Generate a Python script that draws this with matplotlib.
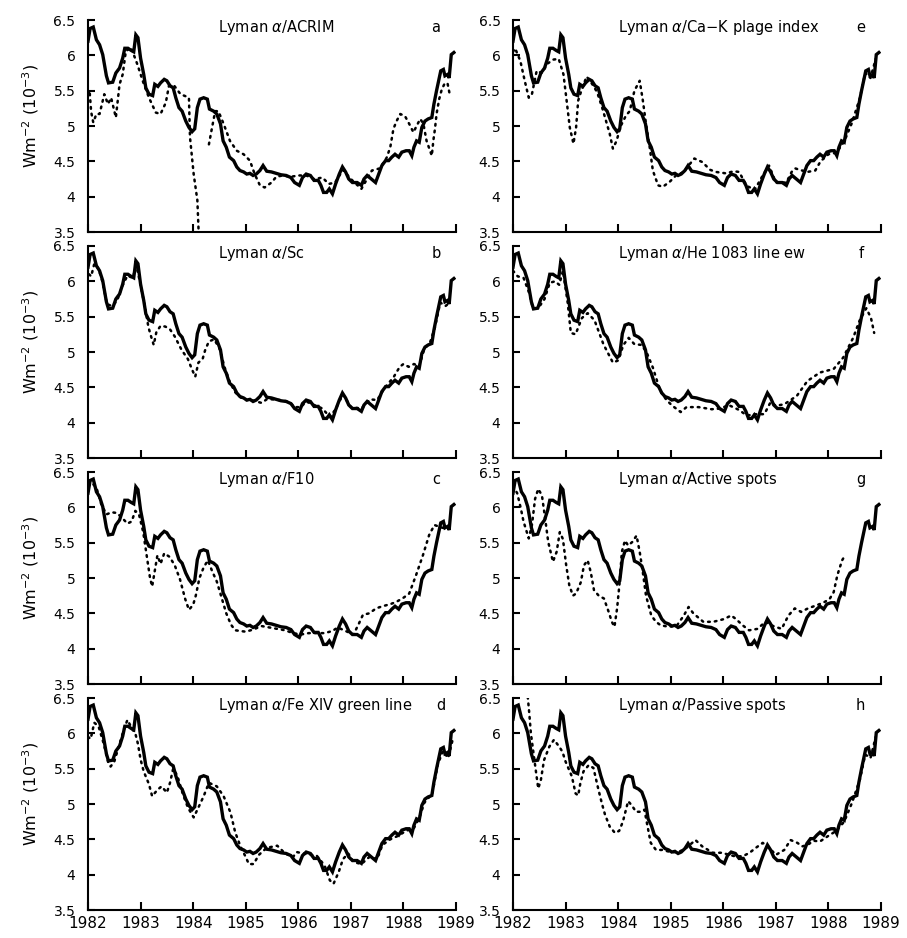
import matplotlib
matplotlib.use("Agg")
import matplotlib.pyplot as plt
import numpy as np

# ---------------- data ----------------
lyman_t = [1982.00, 1982.04, 1982.10, 1982.16, 1982.22, 1982.28, 1982.35, 1982.39, 1982.47, 1982.53,
           1982.60, 1982.66, 1982.70, 1982.76, 1982.82, 1982.87, 1982.91, 1982.95, 1983.00, 1983.06,
           1983.10, 1983.16, 1983.23, 1983.27, 1983.33, 1983.38, 1983.45, 1983.50, 1983.56, 1983.62,
           1983.67, 1983.73, 1983.79, 1983.86, 1983.92, 1983.98, 1984.03, 1984.08, 1984.13, 1984.20,
           1984.27, 1984.31, 1984.39, 1984.45, 1984.52, 1984.57, 1984.63, 1984.69, 1984.77, 1984.83,
           1984.89, 1984.96, 1985.02, 1985.08, 1985.14, 1985.20, 1985.27, 1985.33, 1985.40, 1985.49,
           1985.58, 1985.67, 1985.77, 1985.86, 1985.93, 1986.02, 1986.08, 1986.15, 1986.23, 1986.30,
           1986.38, 1986.43, 1986.48, 1986.54, 1986.59, 1986.65, 1986.71, 1986.78, 1986.84, 1986.90,
           1986.96, 1987.03, 1987.12, 1987.20, 1987.25, 1987.31, 1987.39, 1987.47, 1987.53, 1987.59,
           1987.66, 1987.72, 1987.78, 1987.84, 1987.91, 1987.97, 1988.05, 1988.11, 1988.16, 1988.20,
           1988.25, 1988.30, 1988.35, 1988.41, 1988.47, 1988.54, 1988.58, 1988.63, 1988.67, 1988.71,
           1988.76, 1988.79, 1988.84, 1988.87, 1988.91, 1988.96]
lyman_v = [6.20, 6.38, 6.40, 6.22, 6.15, 6.01, 5.71, 5.61, 5.62, 5.75,
           5.82, 5.96, 6.10, 6.10, 6.07, 6.05, 6.29, 6.25, 5.96, 5.73,
           5.54, 5.45, 5.43, 5.59, 5.56, 5.61, 5.66, 5.64, 5.57, 5.54,
           5.40, 5.26, 5.21, 5.07, 4.98, 4.92, 4.96, 5.26, 5.38, 5.40,
           5.38, 5.24, 5.21, 5.17, 5.03, 4.79, 4.70, 4.56, 4.51, 4.42,
           4.37, 4.35, 4.32, 4.33, 4.30, 4.32, 4.37, 4.44, 4.36, 4.35,
           4.33, 4.31, 4.30, 4.27, 4.20, 4.16, 4.27, 4.32, 4.30, 4.23,
           4.23, 4.16, 4.06, 4.06, 4.11, 4.04, 4.18, 4.32, 4.42, 4.35,
           4.25, 4.20, 4.20, 4.16, 4.25, 4.30, 4.25, 4.20, 4.32, 4.44,
           4.51, 4.51, 4.56, 4.60, 4.56, 4.63, 4.65, 4.65, 4.58, 4.70,
           4.79, 4.77, 4.98, 5.07, 5.10, 5.12, 5.31, 5.50, 5.64, 5.78,
           5.80, 5.71, 5.73, 5.68, 6.01, 6.04]

# a: ACRIM (gap after the drop in early 1984)
acrim_t = [1982.00, 1982.03, 1982.06, 1982.10, 1982.16, 1982.22, 1982.31, 1982.38, 1982.44, 1982.53,
           1982.60, 1982.66, 1982.72, 1982.82, 1982.94, 1983.04, 1983.16, 1983.29, 1983.38, 1983.48,
           1983.54, 1983.64, 1983.76, 1983.86, 1983.92, 1983.94, 1984.01, 1984.08, 1984.11, 1984.20,
           1984.30, 1984.36, 1984.42, 1984.48, 1984.58, 1984.70, 1984.83, 1984.96, 1985.08, 1985.17,
           1985.27, 1985.36, 1985.49, 1985.58, 1985.70, 1985.85, 1986.00, 1986.15, 1986.30, 1986.46,
           1986.58, 1986.70, 1986.85, 1987.00, 1987.20, 1987.40, 1987.55, 1987.68, 1987.75, 1987.81,
           1987.87, 1987.94, 1988.03, 1988.11, 1988.19, 1988.25, 1988.32, 1988.38, 1988.44, 1988.54,
           1988.57, 1988.60, 1988.63, 1988.68, 1988.73, 1988.79, 1988.84, 1988.88]
acrim_v = [5.45, 5.50, 5.20, 5.05, 5.17, 5.17, 5.45, 5.31, 5.40, 5.12,
           5.59, 5.73, 6.06, 6.11, 5.87, 5.64, 5.40, 5.19, 5.17, 5.33,
           5.57, 5.57, 5.45, 5.42, 5.40, 4.84, 4.32, 3.95, 3.40, np.nan,
           4.74, 4.98, 5.21, 5.21, 5.03, 4.79, 4.65, 4.60, 4.51, 4.32,
           4.16, 4.13, 4.20, 4.28, 4.30, 4.28, 4.30, 4.30, 4.25, 4.27,
           4.18, 4.20, 4.38, 4.25, 4.11, 4.37, 4.40, 4.55, 4.70, 4.96,
           5.07, 5.17, 5.14, 5.03, 4.91, 5.00, 5.10, 5.03, 4.79, 4.58,
           4.80, 4.96, 5.17, 5.38, 5.52, 5.61, 5.60, 5.45]

# b: Sc
sc_t = [1982.02, 1982.06, 1982.12, 1982.20, 1982.28, 1982.36, 1982.45, 1982.55, 1982.65, 1982.75,
        1982.85, 1982.92, 1983.00, 1983.08, 1983.15, 1983.20, 1983.25, 1983.30, 1983.38, 1983.47,
        1983.56, 1983.65, 1983.78, 1983.90, 1983.98, 1984.04, 1984.10, 1984.18, 1984.23, 1984.30,
        1984.40, 1984.50, 1984.60, 1984.70, 1984.80, 1984.90, 1985.00, 1985.10, 1985.20, 1985.30,
        1985.40, 1985.50, 1985.65, 1985.80, 1985.95, 1986.05, 1986.15, 1986.30, 1986.46, 1986.60,
        1986.70, 1986.85, 1987.00, 1987.20, 1987.37, 1987.50, 1987.65, 1987.81, 1987.93, 1988.00,
        1988.10, 1988.20, 1988.30, 1988.40, 1988.50, 1988.60, 1988.70, 1988.80, 1988.88]
sc_v = [6.10, 6.07, 6.25, 6.18, 5.98, 5.68, 5.65, 5.72, 5.93, 6.08,
        6.05, 6.22, 5.95, 5.65, 5.35, 5.22, 5.10, 5.28, 5.37, 5.36,
        5.32, 5.22, 5.03, 4.90, 4.75, 4.65, 4.85, 4.90, 5.03, 5.15,
        5.18, 5.05, 4.78, 4.57, 4.43, 4.36, 4.32, 4.32, 4.30, 4.28,
        4.33, 4.33, 4.32, 4.30, 4.22, 4.22, 4.30, 4.25, 4.20, 4.08,
        4.18, 4.40, 4.22, 4.20, 4.33, 4.32, 4.50, 4.64, 4.79, 4.83,
        4.79, 4.83, 4.80, 5.05, 5.12, 5.35, 5.70, 5.65, 5.70]

# c: F10
f10_t = [1982.00, 1982.08, 1982.16, 1982.25, 1982.35, 1982.45, 1982.55, 1982.65, 1982.75, 1982.83,
         1982.90, 1982.97, 1983.05, 1983.12, 1983.18, 1983.22, 1983.27, 1983.32, 1983.38, 1983.45,
         1983.55, 1983.65, 1983.75, 1983.85, 1983.92, 1984.00, 1984.05, 1984.12, 1984.20, 1984.28,
         1984.36, 1984.45, 1984.55, 1984.63, 1984.72, 1984.80, 1984.90, 1985.00, 1985.14, 1985.30,
         1985.45, 1985.60, 1985.75, 1985.90, 1986.05, 1986.20, 1986.35, 1986.50, 1986.65, 1986.75,
         1986.90, 1987.05, 1987.15, 1987.23, 1987.35, 1987.48, 1987.60, 1987.75, 1987.86, 1988.00,
         1988.11, 1988.24, 1988.37, 1988.49, 1988.59, 1988.70, 1988.80]
f10_v = [6.30, 6.34, 6.28, 6.05, 5.90, 5.93, 5.92, 5.85, 5.77, 5.80,
         5.95, 5.90, 5.65, 5.30, 5.00, 4.88, 5.10, 5.32, 5.20, 5.35,
         5.30, 5.18, 4.98, 4.70, 4.55, 4.62, 4.75, 5.00, 5.15, 5.25,
         5.10, 4.95, 4.70, 4.50, 4.34, 4.26, 4.25, 4.24, 4.27, 4.32,
         4.30, 4.28, 4.26, 4.22, 4.20, 4.22, 4.22, 4.22, 4.25, 4.30,
         4.25, 4.20, 4.35, 4.48, 4.50, 4.57, 4.60, 4.63, 4.66, 4.72,
         4.78, 5.04, 5.32, 5.61, 5.75, 5.72, 5.70]

# d: Fe XIV green line
fe_t = [1982.00, 1982.05, 1982.12, 1982.20, 1982.30, 1982.38, 1982.43, 1982.50, 1982.60, 1982.68,
        1982.75, 1982.85, 1982.90, 1982.95, 1983.00, 1983.06, 1983.16, 1983.22, 1983.32, 1983.40,
        1983.50, 1983.56, 1983.62, 1983.70, 1983.80, 1983.90, 1984.01, 1984.10, 1984.20, 1984.30,
        1984.45, 1984.58, 1984.71, 1984.80, 1984.90, 1985.00, 1985.06, 1985.15, 1985.25, 1985.40,
        1985.60, 1985.75, 1985.90, 1985.97, 1986.16, 1986.35, 1986.50, 1986.60, 1986.67, 1986.77,
        1986.85, 1986.95, 1987.05, 1987.20, 1987.35, 1987.50, 1987.60, 1987.75, 1987.90, 1988.05,
        1988.20, 1988.30, 1988.40, 1988.55, 1988.65, 1988.75, 1988.85, 1988.95]
fe_v = [5.95, 5.92, 6.15, 6.10, 5.85, 5.60, 5.53, 5.60, 5.85, 6.05,
        6.19, 6.05, 6.00, 5.85, 5.63, 5.46, 5.28, 5.11, 5.20, 5.25,
        5.16, 5.30, 5.50, 5.40, 5.15, 4.95, 4.81, 4.95, 5.11, 5.30,
        5.25, 5.11, 4.88, 4.60, 4.40, 4.25, 4.15, 4.15, 4.28, 4.38,
        4.41, 4.30, 4.25, 4.32, 4.29, 4.27, 4.13, 3.92, 3.87, 4.04,
        4.22, 4.30, 4.18, 4.15, 4.25, 4.22, 4.42, 4.50, 4.55, 4.62,
        4.66, 4.80, 5.02, 5.15, 5.55, 5.75, 5.65, 5.95]

# e: Ca-K plage index
cak_t = [1982.00, 1982.04, 1982.14, 1982.22, 1982.30, 1982.36, 1982.45, 1982.55, 1982.65, 1982.77,
         1982.87, 1982.96, 1983.02, 1983.08, 1983.15, 1983.20, 1983.24, 1983.30, 1983.40, 1983.50,
         1983.60, 1983.70, 1983.84, 1983.90, 1983.97, 1984.05, 1984.15, 1984.22, 1984.31, 1984.41,
         1984.47, 1984.53, 1984.60, 1984.66, 1984.76, 1984.85, 1984.98, 1985.10, 1985.25, 1985.35,
         1985.45, 1985.60, 1985.75, 1985.86, 1986.05, 1986.20, 1986.30, 1986.45, 1986.60, 1986.75,
         1986.87, 1987.00, 1987.20, 1987.30, 1987.37, 1987.45, 1987.60, 1987.75, 1987.85, 1988.00,
         1988.15, 1988.30, 1988.45, 1988.60, 1988.70, 1988.80, 1988.90]
cak_v = [6.05, 6.10, 5.92, 5.65, 5.40, 5.45, 5.78, 5.75, 5.88, 5.94,
         5.95, 5.73, 5.36, 4.98, 4.75, 4.98, 5.36, 5.50, 5.70, 5.60,
         5.48, 5.25, 4.89, 4.68, 4.79, 5.00, 5.15, 5.21, 5.50, 5.64,
         5.36, 5.03, 4.70, 4.37, 4.16, 4.14, 4.21, 4.30, 4.35, 4.45,
         4.54, 4.49, 4.38, 4.35, 4.33, 4.36, 4.35, 4.15, 4.10, 4.30,
         4.44, 4.20, 4.20, 4.35, 4.40, 4.38, 4.35, 4.37, 4.50, 4.60,
         4.62, 4.78, 5.05, 5.40, 5.75, 5.68, 5.95]

# f: He 1083 line equivalent width
he_t = [1982.00, 1982.09, 1982.20, 1982.30, 1982.38, 1982.48, 1982.60, 1982.70, 1982.80, 1982.88,
        1982.95, 1983.04, 1983.10, 1983.19, 1983.31, 1983.42, 1983.55, 1983.72, 1983.90, 1984.00,
        1984.10, 1984.20, 1984.31, 1984.45, 1984.55, 1984.66, 1984.80, 1984.92, 1985.03, 1985.19,
        1985.30, 1985.53, 1985.78, 1985.95, 1986.10, 1986.30, 1986.45, 1986.60, 1986.78, 1986.90,
        1987.00, 1987.16, 1987.28, 1987.40, 1987.60, 1987.84, 1988.10, 1988.28, 1988.47, 1988.59,
        1988.72, 1988.81, 1988.87]
he_v = [6.15, 6.07, 6.05, 5.85, 5.62, 5.62, 5.75, 5.98, 6.00, 5.95,
        6.15, 5.70, 5.27, 5.25, 5.48, 5.55, 5.45, 5.11, 4.85, 4.88,
        5.10, 5.20, 5.11, 5.10, 4.98, 4.78, 4.45, 4.32, 4.24, 4.15,
        4.22, 4.22, 4.19, 4.20, 4.25, 4.18, 4.10, 4.12, 4.12, 4.29,
        4.24, 4.26, 4.32, 4.38, 4.59, 4.71, 4.76, 4.92, 5.20, 5.44,
        5.62, 5.48, 5.27]

# g: Active spots
act_t = [1982.00, 1982.08, 1982.15, 1982.20, 1982.30, 1982.36, 1982.42, 1982.48, 1982.55, 1982.61,
         1982.67, 1982.76, 1982.83, 1982.89, 1982.95, 1983.01, 1983.07, 1983.14, 1983.20, 1983.29,
         1983.35, 1983.42, 1983.48, 1983.54, 1983.63, 1983.73, 1983.82, 1983.88, 1983.93, 1983.98,
         1984.03, 1984.07, 1984.13, 1984.19, 1984.27, 1984.35, 1984.41, 1984.47, 1984.53, 1984.63,
         1984.72, 1984.81, 1984.97, 1985.12, 1985.25, 1985.34, 1985.43, 1985.62, 1985.81, 1986.02,
         1986.15, 1986.24, 1986.37, 1986.49, 1986.65, 1986.80, 1986.95, 1987.11, 1987.24, 1987.36,
         1987.48, 1987.61, 1987.76, 1987.90, 1988.02, 1988.10, 1988.17, 1988.26, 1988.30]
act_v = [6.30, 6.20, 5.98, 5.80, 5.56, 5.75, 6.12, 6.26, 6.17, 5.85,
         5.51, 5.23, 5.37, 5.65, 5.55, 5.19, 4.90, 4.75, 4.78, 4.94,
         5.18, 5.25, 5.08, 4.83, 4.75, 4.71, 4.52, 4.38, 4.31, 4.57,
         4.95, 5.37, 5.53, 5.46, 5.51, 5.60, 5.37, 5.08, 4.75, 4.47,
         4.38, 4.33, 4.31, 4.33, 4.47, 4.59, 4.50, 4.38, 4.38, 4.42,
         4.47, 4.42, 4.33, 4.26, 4.28, 4.38, 4.32, 4.28, 4.47, 4.57,
         4.52, 4.57, 4.61, 4.65, 4.70, 4.80, 5.04, 5.25, 5.30]

# h: Passive spots
pas_t = [1982.22, 1982.28, 1982.31, 1982.34, 1982.39, 1982.44, 1982.48, 1982.53, 1982.59, 1982.69,
         1982.78, 1982.88, 1982.94, 1983.00, 1983.12, 1983.19, 1983.24, 1983.28, 1983.34, 1983.44,
         1983.53, 1983.62, 1983.69, 1983.75, 1983.84, 1983.94, 1984.02, 1984.09, 1984.19, 1984.26,
         1984.34, 1984.44, 1984.50, 1984.56, 1984.62, 1984.72, 1984.84, 1985.00, 1985.15, 1985.30,
         1985.47, 1985.60, 1985.80, 1985.97, 1986.22, 1986.37, 1986.50, 1986.62, 1986.75, 1986.85,
         1987.00, 1987.16, 1987.28, 1987.41, 1987.50, 1987.60, 1987.72, 1987.84, 1988.00, 1988.15,
         1988.30, 1988.45, 1988.60, 1988.70, 1988.80, 1988.90]
pas_v = [6.80, 6.52, 6.28, 6.00, 5.72, 5.44, 5.22, 5.34, 5.62, 5.81,
         5.91, 5.81, 5.74, 5.60, 5.39, 5.15, 5.12, 5.29, 5.46, 5.55,
         5.51, 5.22, 5.01, 4.85, 4.68, 4.59, 4.62, 4.75, 5.04, 4.98,
         4.89, 4.89, 4.92, 4.68, 4.45, 4.35, 4.35, 4.32, 4.32, 4.38,
         4.49, 4.40, 4.31, 4.31, 4.26, 4.26, 4.31, 4.38, 4.45, 4.40,
         4.28, 4.35, 4.49, 4.45, 4.40, 4.42, 4.48, 4.47, 4.55, 4.62,
         4.75, 5.02, 5.35, 5.70, 5.65, 5.95]

titles = [r"Lyman $\alpha$/ACRIM", r"Lyman $\alpha$/Sc", r"Lyman $\alpha$/F10",
          r"Lyman $\alpha$/Fe XIV green line",
          r"Lyman $\alpha$/Ca$-$K plage index", r"Lyman $\alpha$/He 1083 line ew",
          r"Lyman $\alpha$/Active spots", r"Lyman $\alpha$/Passive spots"]
letters = ["a", "b", "c", "d", "e", "f", "g", "h"]
comp_t = [acrim_t, sc_t, f10_t, fe_t, cak_t, he_t, act_t, pas_t]
comp_v = [acrim_v, sc_v, f10_v, fe_v, cak_v, he_v, act_v, pas_v]

year_ticks = [1982, 1983, 1984, 1985, 1986, 1987, 1988, 1989]
year_labels = ["1982", "1983", "1984", "1985", "1986", "1987", "1988", "1989"]
y_ticks = [3.5, 4, 4.5, 5, 5.5, 6, 6.5]
y_labels = ["3.5", "4", "4.5", "5", "5.5", "6", "6.5"]
ylabel = r"Wm$^{-2}$ (10$^{-3}$)"

# ---------------- figure ----------------
plt.rcParams['font.family'] = ['DejaVu Sans']
W, H = 907, 938
fig = plt.figure(figsize=(W / 100, H / 100), dpi=100)

col_left = [88, 513]
col_w = 368
row_top = [20, 246, 472, 698]
row_h = 212

for i in range(8):
    col = i // 4
    row = i % 4
    x0 = col_left[col]
    y0 = row_top[row]
    ax = fig.add_axes([x0 / W, 1 - (y0 + row_h) / H, col_w / W, row_h / H])
    ax.plot(lyman_t, lyman_v, color='black', lw=2.4, solid_joinstyle='miter')
    ax.plot(comp_t[i], comp_v[i], color='black', lw=1.8, linestyle=(0, (0.7, 2.0)),
            dash_capstyle='round')
    ax.set_xlim(1982, 1989)
    ax.set_ylim(3.5, 6.5)
    for s in ['top', 'right']:
        ax.spines[s].set_visible(False)
    for s in ['left', 'bottom']:
        ax.spines[s].set_linewidth(1.5)
    ax.set_yticks(y_ticks)
    ax.set_yticklabels(y_labels)
    ax.set_xticks(year_ticks)
    if row == 3:
        ax.set_xticklabels(year_labels)
    else:
        ax.set_xticklabels([])
    ax.tick_params(axis='x', direction='in', length=6, width=1.5, labelsize=11, pad=4)
    ax.tick_params(axis='y', direction='in', length=5, width=1.5, labelsize=10, pad=9)
    tx = 0.354 if col == 0 else 0.285
    ax.text(tx, 0.965, titles[i], transform=ax.transAxes, ha='left', va='center', fontsize=10.5)
    lx = 0.958 if i == 3 else 0.945
    ax.text(lx, 0.965, letters[i], transform=ax.transAxes, ha='center', va='center', fontsize=10.5)
    if col == 0:
        fig.text(31 / W, 1 - (y0 + row_h / 2 - 10) / H, ylabel, rotation=90,
                 ha='center', va='center', fontsize=11.5)

fig.savefig("out.png", dpi=100)
